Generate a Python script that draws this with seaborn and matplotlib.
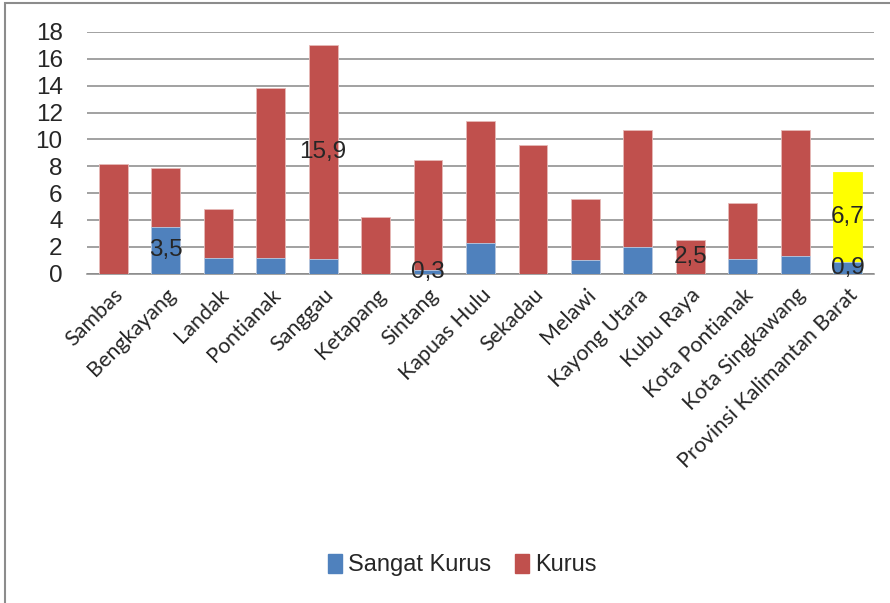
import matplotlib
matplotlib.use('Agg')
from matplotlib import pyplot as plt
from matplotlib.patches import Patch, Rectangle
import pandas as pd
import seaborn as sns

# GIZI DATA - Kalimantan Barat
kabupaten = ['Sambas', 'Bengkayang', 'Landak', 'Pontianak', 'Sanggau', 'Ketapang',
             'Sintang', 'Kapuas Hulu', 'Sekadau', 'Melawi', 'Kayong Utara', 'Kubu Raya',
             'Kota Pontianak', 'Kota Singkawang', 'Provinsi Kalimantan Barat']
sangat_kurus = [0.0, 3.5, 1.2, 1.2, 1.1, 0.0, 0.3, 2.3, 0.0, 1.0, 2.0, 0.0, 1.1, 1.3, 0.9]
kurus = [8.2, 4.4, 3.6, 12.6, 15.9, 4.2, 8.2, 9.1, 9.6, 4.6, 8.7, 2.5, 4.2, 9.4, 6.7]
# which segments get a value label
label_sangat = ['Bengkayang', 'Sintang', 'Provinsi Kalimantan Barat']
label_kurus = ['Sanggau', 'Kubu Raya', 'Provinsi Kalimantan Barat']

df = pd.DataFrame({'kab': kabupaten, 'sangat': sangat_kurus, 'kurus': kurus})
df['total'] = df['sangat'] + df['kurus']

blue = '#4F81BD'
red = '#C0504D'

sns.set_style('white')
plt.rcParams['font.family'] = ['Liberation Sans', 'DejaVu Sans']

fig = plt.figure(figsize=(8.9, 6.03), dpi=100)
ax = fig.add_axes([87/890, 1-273.7/603, (874-87)/890, (273.7-32)/603])

sns.barplot(data=df, x='kab', y='total', color=red, saturation=1, width=0.55,
            edgecolor='#E6B9B8', linewidth=0.6, ax=ax, zorder=3)
sns.barplot(data=df, x='kab', y='sangat', color=blue, saturation=1, width=0.55,
            edgecolor='#B9CDE5', linewidth=0.6, ax=ax, zorder=4)
# highlight province bar
ax.containers[0].patches[-1].set_facecolor('#FFFF00')
ax.containers[0].patches[-1].set_edgecolor('#FFFF00')

for i, row in df.iterrows():
    if row['kab'] in label_sangat:
        ax.text(i, row['sangat'] / 2, f"{row['sangat']:.1f}".replace('.', ','),
                ha='center', va='center', fontsize=17.5, zorder=6)
    if row['kab'] in label_kurus:
        ax.text(i, row['sangat'] + row['kurus'] / 2, f"{row['kurus']:.1f}".replace('.', ','),
                ha='center', va='center', fontsize=17.5, zorder=6)

ax.set_ylim(0, 18)
ax.set_xlim(-0.5, len(kabupaten) - 0.5)
ax.set_yticks(range(0, 19, 2))
ax.yaxis.grid(True, color='#888888', linewidth=1.1, zorder=0)
ax.set_axisbelow(True)
for s in ['left', 'right', 'top']:
    ax.spines[s].set_visible(False)
ax.spines['bottom'].set_color('#888888')
ax.spines['bottom'].set_linewidth(1.1)
ax.set_xlabel('')
ax.set_ylabel('')
ax.tick_params(axis='y', labelsize=17.5, pad=17.5, length=0)
ax.tick_params(axis='x', length=0, pad=8)
ax.set_xticks(range(len(kabupaten)))
ax.set_xticklabels(kabupaten, rotation=45, ha='right', va='top',
                   rotation_mode='anchor', fontsize=15.5, family=['Lato', 'DejaVu Sans'])

handles = [Patch(color=blue, label='Sangat Kurus'), Patch(color=red, label='Kurus')]
fig.legend(handles=handles, loc='center', bbox_to_anchor=(462/890, 1-565/603), ncol=2,
           frameon=False, handlelength=0.6, handleheight=0.9, handletextpad=0.25,
           columnspacing=1.0, prop={'family': ['Liberation Sans Narrow', 'Liberation Sans'], 'size': 17})

fig.patches.append(Rectangle((5/890, -0.05), 1.0, 1-3/603+0.05, transform=fig.transFigure,
                             fill=False, edgecolor='#8c8c8c', linewidth=1.5))

fig.savefig('out.png', dpi=100)
